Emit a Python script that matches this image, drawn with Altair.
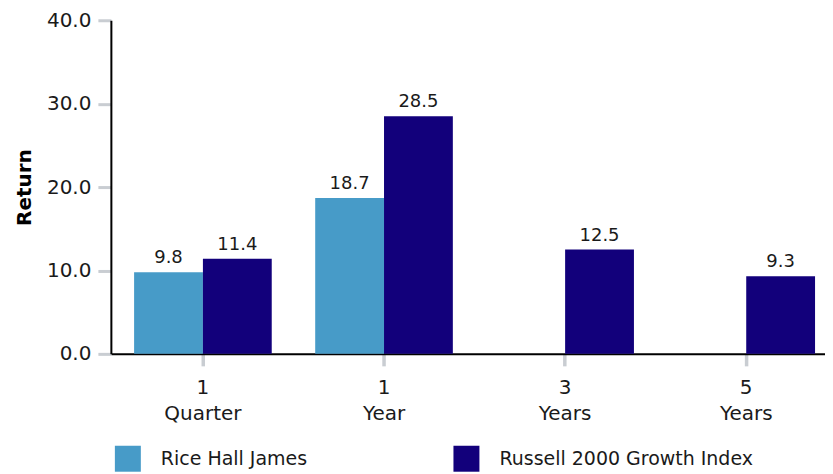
import altair as alt
import pandas as pd

periods = ["1|Quarter", "1|Year", "3|Years", "5|Years"]
series = ["Rice Hall James", "Russell 2000 Growth Index"]
rhj = [9.8, 18.7, None, None]
r2g = [11.4, 28.5, 12.5, 9.3]
colors = ["#479bc8", "#12007b"]
y_ticks = [0, 10, 20, 30, 40]

rows = []
for p, a, b in zip(periods, rhj, r2g):
    if a is not None:
        rows.append({"period": p, "series": series[0], "value": a})
    if b is not None:
        rows.append({"period": p, "series": series[1], "value": b})
df = pd.DataFrame(rows)

FONT = "DejaVu Sans"

x = alt.X(
    "period:N",
    sort=periods,
    title=None,
    scale=alt.Scale(paddingInner=0.24, paddingOuter=0.0916, align=0.7),
    axis=alt.Axis(
        labelExpr="split(datum.value, '|')",
        labelAngle=0,
        labelFontSize=20,
        labelLineHeight=26,
        labelColor="#1a1a1a",
        labelFont=FONT,
        labelPadding=12,
        tickSize=12,
        tickWidth=3.5,
        tickColor="#c9cdd2",
        domainColor="#000000",
        domainWidth=2,
        grid=False,
    ),
)
xoff = alt.XOffset("series:N", sort=series, scale=alt.Scale(paddingInner=0, paddingOuter=0))

y = alt.Y(
    "value:Q",
    title="Return",
    scale=alt.Scale(domain=[0, 40], nice=False),
    axis=alt.Axis(
        values=y_ticks,
        format=".1f",
        labelFontSize=20,
        labelColor="#1a1a1a",
        labelFont=FONT,
        labelPadding=7,
        tickSize=13,
        tickWidth=3,
        tickColor="#c9cdd2",
        domainColor="#000000",
        domainWidth=2,
        grid=False,
        titleFont=FONT,
        titleFontSize=20,
        titleFontWeight="bold",
        titleColor="#000000",
        titlePadding=12,
    ),
)

color = alt.Color(
    "series:N",
    sort=series,
    scale=alt.Scale(domain=series, range=colors),
    legend=alt.Legend(
        title=None,
        orient="none",
        legendX=4,
        legendY=426,
        direction="horizontal",
        symbolType="square",
        symbolSize=676,
        symbolStrokeWidth=0,
        symbolOpacity=1,
        labelFont=FONT,
        labelFontSize=19,
        labelColor="#1a1a1a",
        labelOffset=20,
        labelLimit=400,
        columnPadding=146,
    ),
)

bars = alt.Chart(df).mark_bar(opacity=1).encode(x=x, xOffset=xoff, y=y, color=color)

labels = alt.Chart(df).mark_text(
    baseline="bottom", dy=-5, fontSize=18, font=FONT, color="#1a1a1a"
).encode(
    x=alt.X("period:N", sort=periods),
    xOffset=alt.XOffset("series:N", sort=series),
    y="value:Q",
    text=alt.Text("value:Q", format=".1f"),
)

chart = (
    alt.layer(bars, labels)
    .properties(width=715, height=334, padding={"left": 6, "top": 2, "right": 0, "bottom": 0})
    .configure_view(stroke=None)
)

chart.save("out.html", embed_options={"renderer": "svg", "actions": False})
